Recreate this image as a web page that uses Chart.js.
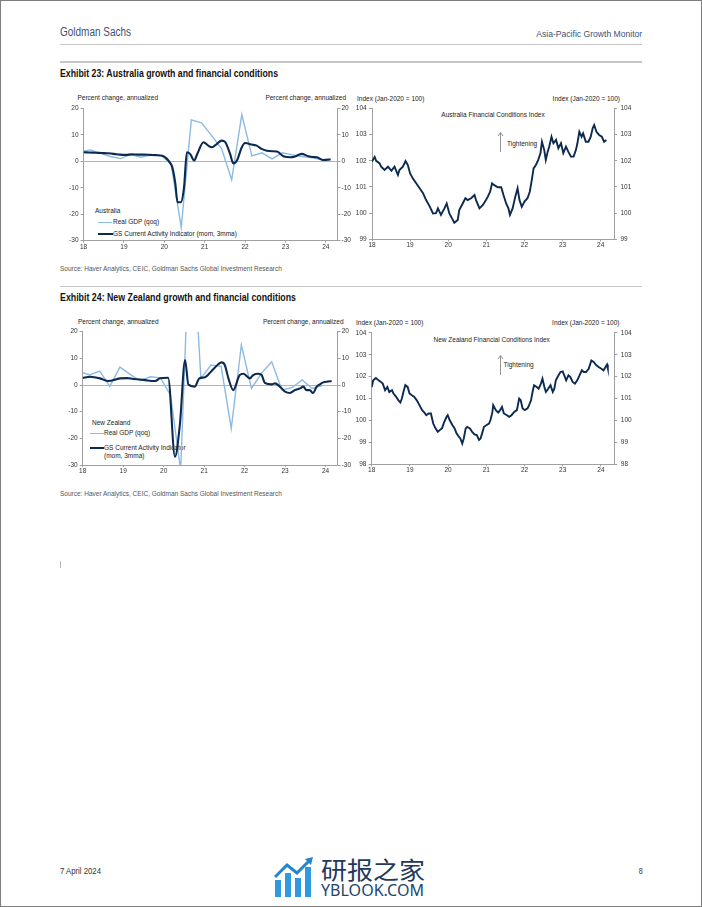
<!DOCTYPE html>
<html>
<head>
<meta charset="utf-8">
<script src="https://cdn.jsdelivr.net/npm/chart.js@4"></script>
<style>
html,body{margin:0;padding:0;background:#fff;}
body{position:relative;width:702px;height:907px;overflow:hidden;}
.t{position:absolute;white-space:nowrap;line-height:1;font-family:'Liberation Sans',Arial,sans-serif;font-size:6.5px;color:#222;}
.rule{position:absolute;left:60px;width:582px;height:1.5px;background:#c6c6c6;}
canvas{position:absolute;z-index:2;}
.leg{position:absolute;z-index:1;}
</style>
</head>
<body>
<div style="position:absolute;left:0;top:0;width:700px;height:905px;border:1px solid #7d7d7d;"></div>

<div class="t" data-w="71" style="left:60px;top:26px;font-size:12.5px;color:#3d5274;">Goldman Sachs</div>
<div class="t" data-w="106" data-o="right center" style="right:60px;top:28.5px;font-size:9.5px;color:#3d5274;">Asia-Pacific Growth Monitor</div>
<div class="rule" style="top:43.5px;"></div>
<div class="rule" style="top:61px;"></div>
<div class="t" data-w="218" style="left:60px;top:68px;font-size:10.5px;font-weight:bold;color:#111;">Exhibit 23: Australia growth and financial conditions</div>

<!-- Exhibit 23 texts -->
<div class="t" style="left:77.5px;top:94.5px;">Percent change, annualized</div>
<div class="t" style="right:356px;top:94.5px;">Percent change, annualized</div>
<div class="t" style="left:357px;top:95.5px;">Index (Jan-2020 = 100)</div>
<div class="t" style="right:82px;top:95.5px;">Index (Jan-2020 = 100)</div>
<div class="t leg" style="left:95px;top:208.2px;">Australia</div>
<div class="leg" style="left:98px;top:221.5px;width:14px;height:1.3px;background:#8dbae3;"></div>
<div class="t leg" style="left:113px;top:218.5px;">Real GDP (qoq)</div>
<div class="leg" style="left:98px;top:233px;width:15px;height:2px;background:#0c2a50;"></div>
<div class="t leg" style="left:113px;top:230.5px;">GS Current Activity Indicator (mom, 3mma)</div>
<div class="t leg" style="left:493px;top:112.2px;transform:translateX(-50%);">Australia Financial Conditions Index</div>
<div class="t leg" style="left:507px;top:140.5px;">Tightening</div>
<svg class="leg" style="left:496px;top:131px;" width="9" height="23"><line x1="4.5" y1="2" x2="4.5" y2="21" stroke="#777" stroke-width="0.8"/><polyline points="2,5 4.5,1.5 7,5" fill="none" stroke="#777" stroke-width="0.8"/></svg>
<div class="t" style="left:60px;top:266px;color:#555;">Source: Haver Analytics, CEIC, Goldman Sachs Global Investment Research</div>

<div class="rule" style="top:285.5px;"></div>
<div class="t" data-w="236" style="left:60px;top:292px;font-size:10.5px;font-weight:bold;color:#111;">Exhibit 24: New Zealand growth and financial conditions</div>

<!-- Exhibit 24 texts -->
<div class="t" style="left:78px;top:319px;">Percent change, annualized</div>
<div class="t" style="right:358.5px;top:319px;">Percent change, annualized</div>
<div class="t" style="left:356px;top:319.8px;">Index (Jan-2020 = 100)</div>
<div class="t" style="right:82.5px;top:319.8px;">Index (Jan-2020 = 100)</div>
<div class="t leg" style="left:92px;top:419.8px;">New Zealand</div>
<div class="leg" style="left:89.5px;top:432.8px;width:14px;height:1.3px;background:#8dbae3;"></div>
<div class="t leg" style="left:104px;top:429.8px;">Real GDP (qoq)</div>
<div class="leg" style="left:89.5px;top:447px;width:14px;height:2px;background:#0c2a50;"></div>
<div class="t leg" style="left:104px;top:444.5px;">GS Current Activity Indicator</div>
<div class="t leg" style="left:104px;top:453.2px;">(mom, 3mma)</div>
<div class="t leg" style="left:491.7px;top:336.5px;transform:translateX(-50%);">New Zealand Financial Conditions Index</div>
<div class="t leg" style="left:503.5px;top:361.5px;">Tightening</div>
<svg class="leg" style="left:496px;top:354px;" width="9" height="23"><line x1="4.5" y1="2" x2="4.5" y2="21" stroke="#777" stroke-width="0.8"/><polyline points="2,5 4.5,1.5 7,5" fill="none" stroke="#777" stroke-width="0.8"/></svg>
<div class="t" style="left:60px;top:490.5px;color:#555;">Source: Haver Analytics, CEIC, Goldman Sachs Global Investment Research</div>

<div style="position:absolute;left:60px;top:561px;width:1px;height:7px;background:#b8b8b8;"></div>

<!-- footer -->
<div class="t" data-w="41" style="left:60px;top:866.5px;font-size:8.5px;color:#333;">7 April 2024</div>
<div class="t" style="right:59px;top:866.5px;font-size:8.5px;color:#333;transform:scaleX(0.85);transform-origin:right center;">8</div>
<svg style="position:absolute;left:274px;top:856px;" width="42" height="42">
  <rect x="1" y="24" width="6" height="17" fill="#2f9ae0"/>
  <rect x="11" y="17" width="6" height="24" fill="#2f9ae0"/>
  <rect x="21" y="22" width="6" height="19" fill="#2f9ae0"/>
  <rect x="31" y="11" width="6" height="30" fill="#2f9ae0"/>
  <polyline points="1,21 13,9 23,17 36,4" fill="none" stroke="#1f86cf" stroke-width="3"/>
  <polygon points="31,3 39,1 37,9" fill="#1f86cf"/>
</svg>
<div class="t" data-w="104" style="left:321px;top:856.5px;font-family:'Noto Sans CJK SC',sans-serif;font-size:24px;color:#1f3a5e;">研报之家</div>
<div class="t" data-w="103" style="left:321px;top:882px;font-family:'Noto Sans','Open Sans',sans-serif;font-size:16px;color:#24466b;">YBLOOK.COM</div>

<canvas id="c1" width="296" height="152" style="left:60px;top:100px;"></canvas>
<canvas id="c2" width="286" height="152" style="left:350px;top:100px;"></canvas>
<canvas id="c3" width="296" height="152" style="left:60px;top:324px;"></canvas>
<canvas id="c4" width="286" height="152" style="left:350px;top:324px;"></canvas>

<script>
// fit condensed header/footer texts to their widths in the reference
document.querySelectorAll('[data-w]').forEach(el => {
  const w = el.getBoundingClientRect().width;
  el.style.transformOrigin = el.dataset.o || 'left center';
  el.style.transform = 'scaleX(' + (parseFloat(el.dataset.w) / w) + ')';
});

// ---------- data ----------
const xTickValues = [18, 19, 20, 21, 22, 23, 24];
const xTickLabels = ['18', '19', '20', '21', '22', '23', '24'];
const growthTicks = [-30, -20, -10, 0, 10, 20];
const ausFciTicks = [99, 100, 101, 102, 103, 104];
const nzFciTicks = [98, 99, 100, 101, 102, 103, 104];

// quarterly real GDP, qoq annualized (plotted at quarter-end month)
const gdpQuarters = [17.92,18.17,18.42,18.67,18.92,19.17,19.42,19.67,19.92,20.17,20.42,20.67,20.92,21.17,21.42,21.67,21.92,22.17,22.42,22.67,22.92,23.17,23.42,23.67,23.92];
const ausGdp = [3.6,4.3,3.0,1.8,1.0,2.6,1.5,2.3,2.2,-1.0,-25.0,15.6,14.5,9.8,4.7,-7.0,17.6,2.0,3.2,0.9,3.2,2.4,1.8,1.3,0.5];
const nzGdp = [5.0,3.8,5.2,-0.5,6.7,4.0,1.6,3.1,2.7,-3.8,-32.0,68.0,2.5,7.5,7.0,-16.3,15.0,-1.3,4.5,8.7,-1.8,-1.0,1.9,-1.3,-0.2];

// GS Current Activity Indicator (mom, 3mma)
const ausCaiX = [18.0,18.15,18.3,18.45,18.6,18.75,18.9,19.05,19.2,19.35,19.5,19.65,19.8,19.95,20.06,20.14,20.2,20.27,20.33,20.41,20.49,20.56,20.64,20.74,20.82,20.97,21.09,21.18,21.3,21.42,21.51,21.63,21.71,21.8,21.92,22.0,22.17,22.29,22.41,22.54,22.67,22.79,22.95,23.12,23.24,23.4,23.57,23.7,23.78,23.94,24.06,24.12];
const ausCai = [3.4,3.3,3.2,3.1,3.0,2.8,2.5,2.4,2.6,2.5,2.5,2.4,2.3,2.1,1.0,-0.5,-2.3,-8.0,-15.5,-15.5,-9.8,3.4,2.8,0.3,2.8,7.2,5.9,5.3,6.5,7.8,7.2,2.8,-0.8,0.3,5.3,6.9,6.3,5.9,4.7,4.0,3.8,3.7,1.9,1.5,1.8,2.8,1.9,1.6,1.5,0.5,0.6,0.7];
const nzCaiX = [18.0,18.18,18.43,18.63,18.92,19.1,19.25,19.42,19.58,19.79,19.91,20.11,20.28,20.4,20.53,20.61,20.77,20.88,21.02,21.18,21.35,21.43,21.51,21.6,21.72,21.88,21.97,22.13,22.21,22.34,22.42,22.5,22.67,22.75,22.87,23.0,23.12,23.24,23.37,23.45,23.53,23.61,23.69,23.78,23.86,23.94,24.06,24.15];
const nzCai = [2.6,3.1,2.5,1.5,2.5,2.6,2.25,2.1,1.75,1.5,2.5,2.75,-26.9,-15.0,9.4,0.2,-0.6,2.5,2.9,5.2,7.8,8.5,7.5,2.5,-1.9,3.75,4.2,2.5,3.75,4.2,3.75,0.8,0.25,0.6,-0.6,-2.5,-3.0,-1.9,-1.25,-0.6,-1.9,-1.9,-3.0,-0.6,0.25,1.0,1.3,1.5];

// Financial conditions indices (Jan-2020 = 100)
const ausFciX = [18.00,18.07,18.11,18.20,18.24,18.33,18.42,18.51,18.59,18.68,18.72,18.81,18.88,18.94,19.00,19.07,19.16,19.25,19.34,19.42,19.51,19.60,19.68,19.73,19.81,19.90,19.96,20.03,20.10,20.16,20.25,20.29,20.38,20.45,20.51,20.60,20.69,20.73,20.82,20.91,20.99,21.04,21.10,21.15,21.21,21.30,21.39,21.45,21.52,21.58,21.62,21.69,21.76,21.82,21.87,21.93,22.00,22.08,22.14,22.20,22.24,22.30,22.36,22.42,22.46,22.52,22.56,22.61,22.65,22.71,22.76,22.83,22.89,22.96,23.02,23.09,23.15,23.22,23.29,23.35,23.39,23.44,23.50,23.54,23.61,23.68,23.74,23.79,23.83,23.89,23.96,24.03,24.09,24.15];
const ausFci = [101.97,102.15,102.0,101.9,101.78,101.65,101.78,101.62,101.78,101.46,101.65,101.78,101.99,101.84,101.52,101.33,101.14,100.95,100.76,100.5,100.27,99.99,100.0,100.18,99.93,100.18,100.37,99.99,99.8,99.63,99.74,100.12,100.37,100.57,100.5,100.57,100.69,100.5,100.18,100.31,100.5,100.63,100.82,101.14,101.07,100.99,100.99,100.69,100.37,100.18,99.93,100.18,100.63,100.95,100.5,100.24,100.44,100.57,100.82,101.33,101.71,101.84,102.03,102.29,102.73,102.41,102.03,102.35,102.54,102.92,102.67,102.8,102.48,102.67,102.29,102.54,102.35,102.16,102.16,102.41,102.67,103.11,102.92,103.05,102.73,102.73,102.92,103.24,103.37,103.11,102.99,102.92,102.73,102.8];
const nzFciX = [18.00,18.04,18.11,18.18,18.24,18.29,18.35,18.41,18.46,18.53,18.57,18.64,18.70,18.75,18.79,18.83,18.88,18.94,18.99,19.05,19.11,19.18,19.25,19.32,19.38,19.43,19.49,19.55,19.61,19.67,19.73,19.78,19.84,19.90,19.96,19.99,20.04,20.11,20.17,20.22,20.28,20.32,20.37,20.41,20.46,20.50,20.57,20.63,20.69,20.75,20.81,20.85,20.89,20.94,21.01,21.07,21.11,21.16,21.18,21.25,21.31,21.36,21.41,21.46,21.54,21.60,21.66,21.73,21.80,21.86,21.90,21.95,22.01,22.08,22.12,22.17,22.21,22.25,22.32,22.37,22.43,22.47,22.52,22.56,22.62,22.68,22.74,22.78,22.82,22.89,22.94,23.00,23.04,23.09,23.15,23.20,23.26,23.32,23.38,23.44,23.50,23.55,23.61,23.68,23.75,23.81,23.88,23.94,24.01,24.07,24.12,24.16,24.18];
const nzFci = [101.53,101.83,101.94,101.83,101.76,101.68,101.38,101.53,101.30,101.38,101.23,101.08,100.92,100.82,101.0,101.30,101.61,101.53,101.23,101.15,101.08,100.92,100.70,100.47,100.36,100.24,100.32,100.32,99.86,99.64,99.48,99.56,99.64,99.94,100.17,100.24,100.02,99.79,99.64,99.41,99.26,99.18,98.95,99.18,99.64,99.71,99.64,99.48,99.36,99.33,99.11,99.18,99.41,99.71,99.79,99.86,100.02,100.39,100.70,100.47,100.36,100.47,100.62,100.32,100.24,100.17,100.24,100.39,100.47,101.0,100.92,100.55,100.47,100.55,100.70,100.92,101.30,101.61,101.53,101.45,101.68,101.91,101.53,101.30,101.45,101.61,101.30,101.45,101.83,102.06,102.21,102.24,102.06,101.83,102.06,101.98,101.76,101.68,101.83,102.06,102.29,102.21,102.21,102.36,102.74,102.67,102.52,102.44,102.36,102.29,102.44,102.55,102.39];

// ---------- chart setup ----------
Chart.defaults.font.family = "'Liberation Sans', Arial, sans-serif";
Chart.defaults.font.size = 6.5;
Chart.defaults.color = '#333';

const LIGHT = '#8dbae3';
const DARK = '#0c2a50';
const AXIS = '#a0a0a0';

function pts(xs, ys) { return xs.map((x, i) => ({ x: x, y: ys[i] })); }

function makeChart(id, datasets, yTicks, dims, zeroLine) {
  const yMin = yTicks[0], yMax = yTicks[yTicks.length - 1];
  const setTicks = s => { s.ticks = yTicks.map(v => ({ value: v })); };
  return new Chart(document.getElementById(id), {
    type: 'line',
    data: { datasets: datasets },
    options: {
      responsive: false, animation: false, devicePixelRatio: 1,
      layout: { autoPadding: false, padding: { top: dims.padTop, left: 0, right: 0, bottom: 0 } },
      plugins: { legend: { display: false }, tooltip: { enabled: false } },
      elements: { point: { radius: 0 } },
      scales: {
        x: {
          type: 'linear', min: 18, max: dims.xMax,
          afterBuildTicks: s => { s.ticks = xTickValues.map(v => ({ value: v })); },
          afterFit: s => { s.height = dims.xH; },
          ticks: { callback: (v, i) => xTickLabels[i], autoSkip: false, maxRotation: 0, padding: 0.5, color: '#333' },
          grid: { drawOnChartArea: false, tickLength: 2, color: AXIS },
          border: { color: AXIS, width: 1 }
        },
        y: {
          position: 'left', min: yMin, max: yMax,
          afterBuildTicks: setTicks,
          afterFit: s => { s.width = dims.leftW; },
          ticks: { padding: dims.lPad, color: '#333' },
          grid: {
            drawOnChartArea: zeroLine, tickLength: 3, tickColor: AXIS,
            color: c => (zeroLine && c.tick && c.tick.value === 0) ? '#b4b4b4' : 'rgba(0,0,0,0)'
          },
          border: { color: AXIS, width: 1 }
        },
        y2: {
          position: 'right', min: yMin, max: yMax,
          afterBuildTicks: setTicks,
          afterFit: s => { s.width = dims.rightW; },
          ticks: { padding: dims.rPad, color: '#333' },
          grid: { drawOnChartArea: false, tickLength: 3, color: AXIS },
          border: { color: AXIS, width: 1 }
        }
      }
    }
  });
}

function growthSets(gdp, caiX, cai) {
  return [
    { data: pts(caiX, cai), borderColor: DARK, borderWidth: 2.1, cubicInterpolationMode: 'monotone', yAxisID: 'y' },
    { data: pts(gdpQuarters, gdp), borderColor: LIGHT, borderWidth: 1.4, tension: 0, yAxisID: 'y' }
  ];
}
function fciSets(xs, ys) {
  return [{ data: pts(xs, ys), borderColor: DARK, borderWidth: 1.9, tension: 0, yAxisID: 'y' }];
}

makeChart('c1', growthSets(ausGdp, ausCaiX, ausCai), growthTicks,
  { padTop: 8.3, leftW: 23.5, rightW: 18.5, xH: 11.3, xMax: 24.29, lPad: 2, rPad: 1 }, true);
makeChart('c2', fciSets(ausFciX, ausFci), ausFciTicks,
  { padTop: 8.5, leftW: 22, rightW: 22, xH: 12.7, xMax: 24.35, lPad: 2.3, rPad: 3.5 }, false);
makeChart('c3', growthSets(nzGdp, nzCaiX, nzCai), growthTicks,
  { padTop: 7.7, leftW: 22.7, rightW: 18.3, xH: 11, xMax: 24.3, lPad: 2, rPad: 1 }, true);
makeChart('c4', fciSets(nzFciX, nzFci), nzFciTicks,
  { padTop: 8.8, leftW: 21.7, rightW: 21.7, xH: 11.7, xMax: 24.35, lPad: 2.3, rPad: 3.5 }, false);
</script>
</body>
</html>
